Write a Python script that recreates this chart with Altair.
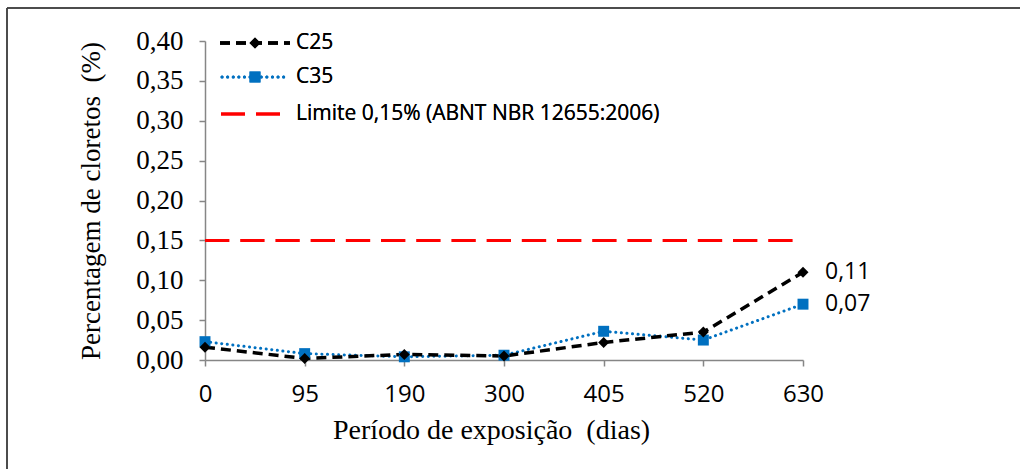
import altair as alt
import pandas as pd

# Exposure periods (days) and chloride content (%) per concrete class
periodos = ["0", "95", "190", "300", "405", "520", "630"]
c25 = [0.016, 0.002, 0.007, 0.005, 0.022, 0.035, 0.11]
c35 = [0.023, 0.008, 0.004, 0.006, 0.036, 0.025, 0.07]
limite = 0.15
rotulos_finais = ["0,11", "0,07"]

df25 = pd.DataFrame({"periodo": periodos, "valor": c25})
df35 = pd.DataFrame({"periodo": periodos, "valor": c35})
dflim = pd.DataFrame({"periodo": periodos, "valor": [limite] * len(periodos)})
dflab = pd.DataFrame({
    "periodo": [periodos[-1], periodos[-1]],
    "valor": [c25[-1], c35[-1]],
    "rotulo": rotulos_finais,
})

AXIS_GRAY = "#868686"
BLUE = "#0070C0"
RED = "#FF0000"
SERIF = "Liberation Serif"
SANS = "Open Sans"
NBSP = "\u00a0"

x_enc = alt.X(
    "periodo:O",
    sort=periodos,
    scale=alt.Scale(type="point", padding=0),
    axis=alt.Axis(
        title=f"Período de exposição {NBSP}(dias)",
        titleFont=SERIF,
        titleFontSize=28,
        titleFontWeight="normal",
        titleColor="black",
        titlePadding=10,
        titleX=286,
        titleAlign="center",
        labelAngle=0,
        labelFont=SANS,
        labelFontSize=24,
        labelFontWeight="normal",
        labelColor="black",
        labelPadding=16,
        domainColor=AXIS_GRAY,
        domainWidth=1.5,
        tickColor=AXIS_GRAY,
        tickSize=6,
        tickWidth=1.5,
        grid=False,
    ),
)

y_enc = alt.Y(
    "valor:Q",
    scale=alt.Scale(domain=[0, 0.4], nice=False),
    axis=alt.Axis(
        title=f"Percentagem de cloretos{NBSP} (%)",
        titleFont=SERIF,
        titleFontSize=27,
        titleFontWeight="normal",
        titleColor="black",
        titlePadding=30,
        values=[0, 0.05, 0.1, 0.15, 0.2, 0.25, 0.3, 0.35, 0.4],
        labelExpr="replace(format(datum.value, '.2f'), '.', ',')",
        labelFont=SERIF,
        labelFontSize=27,
        labelFontWeight="normal",
        labelColor="black",
        labelPadding=16,
        domainColor=AXIS_GRAY,
        domainWidth=1.5,
        tickColor=AXIS_GRAY,
        tickSize=6,
        tickWidth=1.5,
        grid=False,
    ),
)

limit_line = alt.Chart(dflim).mark_line(
    color=RED, strokeWidth=3, strokeDash=[24.4, 10.8]
).encode(x=x_enc, y=y_enc)

line25 = alt.Chart(df25).mark_line(
    color="black", strokeWidth=3.5, strokeDash=[10, 6]
).encode(x=x_enc, y=y_enc)
pts25 = alt.Chart(df25).mark_point(
    shape="diamond", filled=True, color="black", size=120, opacity=1
).encode(x=x_enc, y=y_enc)

line35 = alt.Chart(df35).mark_line(
    color=BLUE, strokeWidth=3, strokeDash=[0.1, 5.5], strokeCap="round"
).encode(x=x_enc, y=y_enc)
pts35 = alt.Chart(df35).mark_point(
    shape="square", filled=True, color=BLUE, size=120, opacity=1
).encode(x=x_enc, y=y_enc)

labels = alt.Chart(dflab).mark_text(
    align="left", baseline="middle", dx=22, font=SANS, fontSize=23,
    fontWeight="normal", color="black"
).encode(x=x_enc, y=y_enc, text="rotulo:N")

# Legend drawn inside the plot area (upper left)
def legend_line(y, color, dash, width=3, cap="butt", x0=15, x1=85):
    return alt.Chart(dflab).mark_rule(
        color=color, strokeWidth=width, strokeDash=dash, strokeCap=cap
    ).encode(x=alt.value(x0), x2=alt.value(x1), y=alt.value(y))

leg25_line = legend_line(2, "black", [10, 6], width=3.5)
leg25_pt = alt.Chart(dflab).mark_point(
    shape="diamond", filled=True, color="black", size=120, opacity=1
).encode(x=alt.value(50), y=alt.value(2))
leg35_line = legend_line(36, BLUE, [0.1, 5.5], cap="round", x0=17, x1=83)
leg35_pt = alt.Chart(dflab).mark_point(
    shape="square", filled=True, color=BLUE, size=120, opacity=1
).encode(x=alt.value(50), y=alt.value(36))
leglim_line = legend_line(73, RED, [24, 11], x0=16, x1=76)

def legend_text(y, txt):
    return alt.Chart(dflab).mark_text(
        align="left", baseline="middle", font=SANS, fontSize=21,
        fontWeight="normal", color="black", text=txt
    ).encode(x=alt.value(91), y=alt.value(y))

leg_texts = (
    legend_text(2, "C25")
    + legend_text(36, "C35")
    + legend_text(73, "Limite 0,15% (ABNT NBR 12655:2006)")
)

# Figure frame
frame_top = alt.Chart(dflab).mark_rule(color="#404040", strokeWidth=1.5).encode(
    x=alt.value(-198), x2=alt.value(820), y=alt.value(-33)
)
frame_left = alt.Chart(dflab).mark_rule(color="#404040", strokeWidth=1.5).encode(
    x=alt.value(-198), y=alt.value(-33), y2=alt.value(440)
)

chart = alt.layer(
    frame_top, frame_left,
    limit_line, line35, line25, pts35, pts25, labels,
    leg25_line, leg25_pt, leg35_line, leg35_pt, leglim_line, leg_texts,
).properties(
    width=598,
    height=319,
    autosize=alt.AutoSizeParams(type="none"),
    padding={"left": 205, "top": 41, "right": 217, "bottom": 109},
    background="white",
).configure_view(stroke=None)

chart.save("out.html", embed_options={"renderer": "svg", "actions": False})
